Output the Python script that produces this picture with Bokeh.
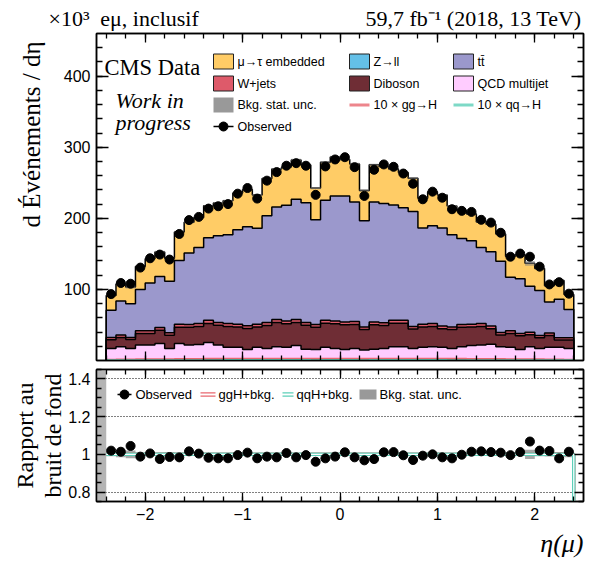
import numpy as np
from bokeh.plotting import figure
from bokeh.layouts import column
from bokeh.models import Range1d, FixedTicker, LinearAxis, Title, CustomJSTickFormatter
from bokeh.core.properties import value
from bokeh.embed import file_html
from bokeh.resources import INLINE

# ---------------- data (values in units of 10^3 events per unit eta) ----------------
bin_edges = [float(v) for v in np.round(np.arange(-2.4, 2.45, 0.1), 2)]   # 48 bins of width 0.1

zll = [0.6, 0.6, 0.7, 0.7, 0.8, 0.8, 0.8, 0.9, 0.9, 0.9, 1.0, 1.0, 1.0, 1.0, 1.0, 1.0,
       1.1, 1.1, 1.1, 1.1, 1.1, 1.0, 1.1, 1.1, 1.1, 1.1, 1.0, 1.1, 1.1, 1.1, 1.1, 1.1,
       1.0, 1.0, 1.0, 1.0, 1.0, 1.0, 0.9, 0.9, 0.9, 0.8, 0.8, 0.8, 0.7, 0.7, 0.6, 0.6]
qcd = [16.4, 18.7, 16.3, 21.0, 20.9, 23.2, 16.2, 23.1, 20.8, 21.6, 24.4, 20.7, 17.7, 17.7, 14.6, 17.7,
       15.9, 18.2, 17.6, 19.9, 14.9, 14.6, 17.6, 15.9, 14.5, 15.9, 13.7, 14.9, 15.9, 18.2, 18.2, 15.9,
       17.7, 18.3, 17.7, 16.0, 18.3, 20.0, 20.8, 22.1, 18.4, 17.9, 14.8, 18.5, 16.3, 18.0, 18.1, 16.4]
diboson = [12.2, 12.9, 12.4, 16.2, 16.4, 18.4, 18.6, 22.8, 25.1, 25.5, 26.8, 27.8, 29.2, 28.5, 29.5, 28.3,
           32.3, 34.0, 33.0, 32.4, 33.5, 31.3, 33.7, 34.6, 34.7, 33.8, 29.0, 34.2, 32.1, 33.0, 33.1, 27.2,
           28.4, 28.7, 26.0, 26.6, 27.4, 26.0, 26.2, 21.7, 16.7, 19.4, 19.1, 16.8, 15.1, 16.5, 10.3, 11.9]
wjets = [3.2, 3.5, 3.0, 3.8, 3.6, 4.0, 3.4, 4.2, 3.8, 4.0, 4.4, 3.9, 4.1, 3.8, 3.9, 4.0,
         4.1, 4.3, 4.0, 4.2, 3.9, 3.7, 4.2, 4.1, 4.0, 4.2, 3.6, 4.1, 3.9, 4.3, 4.2, 3.8,
         3.9, 4.0, 3.8, 3.7, 3.9, 4.0, 4.1, 3.8, 3.4, 3.6, 3.3, 3.5, 3.2, 3.4, 3.0, 3.1]
ttbar = [38.2, 48.0, 47.6, 58.3, 67.3, 71.6, 72.6, 89.6, 100.7, 107.0, 116.1, 122.1, 125.0, 133.0, 139.0, 135.0,
         150.1, 158.4, 162.8, 169.4, 168.6, 147.4, 168.9, 175.8, 177.2, 168.0, 149.2, 168.7, 168.0, 162.3, 158.4, 161.5,
         135.3, 137.5, 137.8, 129.7, 121.1, 117.5, 107.0, 104.6, 100.2, 75.5, 77.0, 65.0, 63.3, 43.6, 54.0, 39.6]
embedded = [21.0, 23.8, 23.4, 32.3, 34.1, 34.8, 32.4, 40.3, 43.1, 42.2, 44.9, 46.2, 47.7, 51.6, 52.4, 46.7,
            52.6, 53.3, 53.6, 55.1, 53.1, 44.5, 53.4, 54.7, 51.4, 53.4, 42.6, 52.2, 51.8, 50.4, 49.3, 46.9,
            42.1, 48.0, 46.4, 40.4, 39.2, 37.6, 35.8, 38.6, 38.5, 29.4, 33.6, 32.1, 30.8, 22.9, 26.6, 21.1]
observed = [93.4, 109.0, 108.0, 130.7, 143.8, 149.0, 142.0, 178.0, 197.5, 202.0, 213.7, 217.0, 220.0, 234.7, 242.6, 227.8,
            253.0, 265.0, 274.0, 277.6, 274.0, 233.0, 273.0, 282.8, 286.0, 272.0, 231.5, 268.3, 275.8, 272.5, 263.0, 248.7,
            226.8, 237.5, 229.0, 212.8, 210.5, 209.0, 197.9, 194.0, 179.7, 146.0, 150.4, 146.0, 132.0, 107.0, 110.2, 94.0]
bkg_rel_unc = [0.010, 0.015, 0.020, 0.008, 0.008, 0.010, 0.012, 0.008, 0.007, 0.007, 0.006, 0.006, 0.006, 0.006, 0.006, 0.007,
               0.006, 0.006, 0.006, 0.006, 0.006, 0.007, 0.006, 0.006, 0.006, 0.006, 0.007, 0.006, 0.006, 0.006, 0.006, 0.006,
               0.007, 0.006, 0.006, 0.007, 0.007, 0.007, 0.007, 0.007, 0.008, 0.009, 0.009, 0.025, 0.010, 0.012, 0.012, 0.015]
ggh_x10 = [1.2, 1.4, 1.4, 1.6, 1.7, 1.8, 1.7, 2.0, 2.1, 2.2, 2.3, 2.3, 2.4, 2.4, 2.5, 2.4,
           2.5, 2.6, 2.6, 2.6, 2.6, 2.4, 2.6, 2.6, 2.6, 2.6, 2.4, 2.6, 2.6, 2.6, 2.5, 2.5,
           2.4, 2.4, 2.4, 2.3, 2.3, 2.2, 2.1, 2.1, 2.0, 1.8, 1.7, 1.7, 1.6, 1.4, 1.4, 1.2]
qqh_x10 = [0.3, 0.3, 0.3, 0.4, 0.4, 0.4, 0.4, 0.5, 0.5, 0.5, 0.5, 0.5, 0.6, 0.6, 0.6, 0.6,
           0.6, 0.6, 0.6, 0.6, 0.6, 0.5, 0.6, 0.6, 0.6, 0.6, 0.5, 0.6, 0.6, 0.6, 0.6, 0.6,
           0.6, 0.6, 0.6, 0.5, 0.5, 0.5, 0.5, 0.5, 0.5, 0.4, 0.4, 0.4, 0.4, 0.3, 0.3, 0.3]

x_ticks = [-2, -1, 0, 1, 2]
y_ticks = [100, 200, 300, 400]
ratio_ticks = [0.8, 1, 1.2, 1.4]

# ---------------- styling ----------------
SERIF = "Liberation Serif"
SANS = "Liberation Sans"
colors = {"zll": "#64c0e8", "qcd": "#ffccff", "diboson": "#6f2d35", "wjets": "#de5a6a",
          "ttbar": "#9b98cc", "embedded": "#ffcc66"}
GGH_C = "#e8676f"
QQH_C = "#5ccfb8"

XLO, XHI = -2.5, 2.5
YLO, YHI = 0, 460
RLO, RHI = 0.75, 1.45

# image-pixel -> data helpers (for legend / header placement only)
def Xd(px):
    return XLO + (px - 96) * (XHI - XLO) / 487.0

def Yd(py):
    return YLO + (360 - py) * (YHI - YLO) / 327.0

def Yr(py):
    return RLO + (501 - py) * (RHI - RLO) / 132.0

def step_path(edges, vals):
    xs, ys = [], []
    for i, v in enumerate(vals):
        xs += [edges[i], edges[i + 1]]
        ys += [float(v), float(v)]
    return xs, ys

def style_axis(ax, major_in, minor_in, labels, size="16px", standoff=5):
    ax.major_tick_in = major_in
    ax.major_tick_out = 0
    ax.minor_tick_in = minor_in
    ax.minor_tick_out = 0
    ax.axis_line_color = "black"
    ax.axis_line_width = 1.5
    ax.major_tick_line_color = "black"
    ax.minor_tick_line_color = "black"
    ax.major_tick_line_width = 1.3
    ax.minor_tick_line_width = 1.3
    if labels:
        ax.major_label_text_font = SANS
        ax.major_label_text_font_size = size
        ax.major_label_text_color = "black"
        ax.major_label_standoff = standoff
    else:
        ax.formatter = CustomJSTickFormatter(code="return ''")
        ax.major_label_text_font_size = "1px"
        ax.major_label_standoff = 0

x_minor = [float(v) for v in np.round(np.arange(-2.4, 2.45, 0.2), 2)]
y_minor = list(range(20, 460, 20))
r_minor = [0.75, 0.85, 0.9, 0.95, 1.05, 1.1, 1.15, 1.25, 1.3, 1.35, 1.45]

def xticker():
    return FixedTicker(ticks=x_ticks, minor_ticks=x_minor)

# ---------------- main panel ----------------
p1 = figure(width=590, height=364, x_range=Range1d(XLO, XHI), y_range=Range1d(YLO, YHI),
            output_backend="svg", toolbar_location=None, title=None,
            min_border_left=96, min_border_right=7, min_border_top=33, min_border_bottom=4)
p1.outline_line_color = "black"
p1.outline_line_width = 1.5
p1.xgrid.visible = False
p1.ygrid.visible = False
p1.background_fill_color = "white"
p1.border_fill_color = "white"

p1.xaxis.ticker = xticker()
style_axis(p1.xaxis[0], 9, 5, False)
p1.yaxis.ticker = FixedTicker(ticks=y_ticks, minor_ticks=y_minor)
style_axis(p1.yaxis[0], 12, 6, True, "16px", 6)
ax_top = LinearAxis(ticker=xticker())
style_axis(ax_top, 9, 5, False)
p1.add_layout(ax_top, "above")
ax_right = LinearAxis(ticker=FixedTicker(ticks=y_ticks, minor_ticks=y_minor))
style_axis(ax_right, 12, 6, False)
p1.add_layout(ax_right, "right")

# header texts carried by an extra (tick-less) top axis
NB = "\u00a0"
head_pos = [XLO + 1e-9, Xd(149), Xd(473)]
head_txt = ["\u00d710\u00b3" + NB * 10, "e\u03bc, inclusif", "59,7 fb\u207b\u00b9 (2018, 13 TeV)"]
ax_head = LinearAxis(ticker=FixedTicker(ticks=head_pos, minor_ticks=[]),
                     formatter=CustomJSTickFormatter(args=dict(pos=head_pos, txt=head_txt),
                                                     code="""
        for (let i = 0; i < pos.length; i++) { if (Math.abs(pos[i] - tick) < 1e-6) return txt[i]; }
        return '';"""))
ax_head.major_tick_in = 0
ax_head.major_tick_out = 0
ax_head.minor_tick_in = 0
ax_head.minor_tick_out = 0
ax_head.axis_line_color = None
ax_head.major_tick_line_color = None
ax_head.minor_tick_line_color = None
ax_head.major_label_text_font = SERIF
ax_head.major_label_text_font_size = "22px"
ax_head.major_label_text_color = "black"
ax_head.major_label_standoff = 3
p1.add_layout(ax_head, "above")

p1.add_layout(Title(text="d \u00c9v\u00e9nements / d\u03b7", align="right", offset=8, standoff=28,
                    vertical_align="top",
                    text_font=SERIF, text_font_size="25px", text_font_style="normal",
                    text_color="black"), "left")

layers = [("zll", zll), ("qcd", qcd), ("diboson", diboson), ("wjets", wjets),
          ("ttbar", ttbar), ("embedded", embedded)]
cum = np.zeros(len(observed))
tops = []
for name, vals in layers:
    lo = cum.copy()
    cum = cum + np.array(vals, dtype=float)
    xs, ytop = step_path(bin_edges, cum)
    _, ybot = step_path(bin_edges, lo)
    p1.patch(xs + xs[::-1], ytop + ybot[::-1], fill_color=colors[name], line_color=None)
    tops.append(cum.copy())
total = cum
for t in tops:
    xs, ys = step_path(bin_edges, t)
    p1.line([bin_edges[0]] + xs + [bin_edges[-1]], [0.0] + ys + [0.0],
            line_color="black", line_width=1.5)

unc = total * np.array(bkg_rel_unc)
xs, yu = step_path(bin_edges, total + unc)
_, yl = step_path(bin_edges, total - unc)
p1.patch(xs + xs[::-1], yu + yl[::-1], fill_color="#808080", fill_alpha=0.55, line_color=None)

xs, ys = step_path(bin_edges, ggh_x10)
p1.line(xs, ys, line_color=GGH_C, line_width=2)
xs, ys = step_path(bin_edges, qqh_x10)
p1.line(xs, ys, line_color=QQH_C, line_width=2)

centers = [(bin_edges[i] + bin_edges[i + 1]) / 2 for i in range(len(observed))]
p1.scatter(centers, observed, marker="circle", size=9, color="black")

# legend (main)
sw_x = [223, 359, 463]
rows = [61, 83, 104.5, 126]
box_items = [(0, 0, colors["embedded"]), (0, 1, colors["zll"]), (0, 2, colors["ttbar"]),
             (1, 0, colors["wjets"]), (1, 1, colors["diboson"]), (1, 2, colors["qcd"])]
p1.rect(x=[Xd(sw_x[c]) for r, c, _ in box_items], y=[Yd(rows[r]) for r, c, _ in box_items],
        width=20, height=15, width_units="screen", height_units="screen",
        fill_color=[col for _, _, col in box_items], line_color="#222222", line_width=1)
p1.rect(x=[Xd(sw_x[0])], y=[Yd(rows[2])], width=20, height=15, width_units="screen",
        height_units="screen", fill_color="#999999", line_color=None)
p1.segment(x0=[Xd(sw_x[1] - 10)], y0=[Yd(rows[2])], x1=[Xd(sw_x[1] + 10)], y1=[Yd(rows[2])],
           line_color=GGH_C, line_width=3, line_alpha=0.8)
p1.segment(x0=[Xd(sw_x[2] - 10)], y0=[Yd(rows[2])], x1=[Xd(sw_x[2] + 10)], y1=[Yd(rows[2])],
           line_color=QQH_C, line_width=3, line_alpha=0.8)
p1.segment(x0=[Xd(sw_x[0] - 10)], y0=[Yd(rows[3])], x1=[Xd(sw_x[0] + 10)], y1=[Yd(rows[3])],
           line_color="black", line_width=1.5)
p1.scatter([Xd(sw_x[0])], [Yd(rows[3])], marker="circle", size=9, color="black")

leg_text = [(0, 0, "\u03bc\u2192\u03c4 embedded"), (0, 1, "Z\u2192ll"), (0, 2, "tt\u0304"),
            (1, 0, "W+jets"), (1, 1, "Diboson"), (1, 2, "QCD multijet"),
            (2, 0, "Bkg. stat. unc."), (2, 1, "10 \u00d7 gg\u2192H"), (2, 2, "10 \u00d7 qq\u2192H"),
            (3, 0, "Observed")]
p1.text(x=[Xd(sw_x[c] + 14) for r, c, _ in leg_text], y=[Yd(rows[r]) for r, c, _ in leg_text],
        text=[t for _, _, t in leg_text], text_font=value(SANS), text_font_size=value("12.5px"),
        text_baseline="middle", text_align="left", text_color="black")

# in-frame annotations
p1.text(x=[Xd(104)], y=[Yd(67)], text=["CMS Data"], text_font=value(SERIF),
        text_font_size=value("22.5px"), text_baseline="alphabetic", text_align="left", text_color="black")
p1.text(x=[Xd(115), Xd(115)], y=[Yd(100), Yd(122)], text=["Work in", "progress"], text_font=value(SERIF),
        text_font_size=value("22px"), text_font_style="italic", text_baseline="alphabetic",
        text_align="left", text_color="black")

# ---------------- ratio panel ----------------
p2 = figure(width=590, height=199, x_range=p1.x_range, y_range=Range1d(RLO, RHI),
            output_backend="svg", toolbar_location=None, title=None,
            min_border_left=96, min_border_right=7, min_border_top=5, min_border_bottom=62)
p2.outline_line_color = "black"
p2.outline_line_width = 1.5
p2.xgrid.visible = False
p2.ygrid.ticker = FixedTicker(ticks=ratio_ticks)
p2.ygrid.grid_line_color = "black"
p2.ygrid.grid_line_dash = "1 2"
p2.ygrid.grid_line_width = 1
p2.background_fill_color = "white"
p2.border_fill_color = "white"

p2.xaxis.ticker = xticker()
style_axis(p2.xaxis[0], 9, 5, True, "16px", 6)
p2.xaxis.major_label_overrides = {-2: "\u22122", -1: "\u22121"}
p2.yaxis.ticker = FixedTicker(ticks=ratio_ticks, minor_ticks=r_minor)
style_axis(p2.yaxis[0], 9, 5, True, "16px", 6)
p2.yaxis.major_label_overrides = {1: "1"}
ax_top2 = LinearAxis(ticker=xticker())
style_axis(ax_top2, 9, 5, False)
p2.add_layout(ax_top2, "above")
ax_right2 = LinearAxis(ticker=FixedTicker(ticks=ratio_ticks, minor_ticks=r_minor))
style_axis(ax_right2, 9, 5, False)
p2.add_layout(ax_right2, "right")

p2.add_layout(Title(text="bruit de fond", align="center", standoff=0, text_font=SERIF,
                    text_font_size="24px", text_font_style="normal", text_color="black"), "left")
p2.add_layout(Title(text="Rapport au", align="center", standoff=0, text_font=SERIF,
                    text_font_size="24px", text_font_style="normal", text_color="black"), "left")
p2.add_layout(Title(text="\u03b7(\u03bc)", align="right", standoff=8, text_font=SERIF,
                    text_font_size="26px", text_font_style="italic", text_color="black"), "below")

rel = np.array(bkg_rel_unc)
p2.quad(left=[XLO], right=[bin_edges[0]], bottom=[RLO], top=[RHI], fill_color="#b4b4b4", line_color=None)
p2.quad(left=bin_edges[:-1], right=bin_edges[1:], bottom=list(1 - rel), top=list(1 + rel),
        fill_color="#999999", fill_alpha=0.85, line_color=None)

for sig, colr in ((ggh_x10, GGH_C), (qqh_x10, QQH_C)):
    r = (total + np.array(sig) / 10.0) / total
    xs, ys = step_path(bin_edges, r)
    xs = xs + [bin_edges[-1], XHI]
    ys = ys + [0.0, 0.0]
    p2.line(xs, ys, line_color=colr, line_width=3.5)
    p2.line(xs, ys, line_color="white", line_width=1.2)

ratio_obs = list(np.array(observed) / total)
p2.scatter(centers, ratio_obs, marker="circle", size=9, color="black")

# ratio legend
ly = Yr(394)
p2.segment(x0=[Xd(117)], y0=[ly], x1=[Xd(131)], y1=[ly], line_color="black", line_width=1.5)
p2.scatter([Xd(124)], [ly], marker="circle", size=9, color="black")
for x0, x1, colr in ((200, 215, GGH_C), (282, 293, QQH_C)):
    p2.segment(x0=[Xd(x0), Xd(x0)], y0=[Yr(392.3), Yr(395.7)], x1=[Xd(x1), Xd(x1)],
               y1=[Yr(392.3), Yr(395.7)], line_color=colr, line_width=1.3)
p2.rect(x=[Xd(367.5)], y=[ly], width=17, height=10, width_units="screen", height_units="screen",
        fill_color="#999999", line_color=None)
p2.text(x=[Xd(135), Xd(218), Xd(296), Xd(379)], y=[ly] * 4,
        text=["Observed", "ggH+bkg.", "qqH+bkg.", "Bkg. stat. unc."],
        text_font=value(SANS), text_font_size=value("13px"), text_baseline="middle",
        text_align="left", text_color="black")

layout = column(p1, p2)
open("out.html", "w").write(file_html(layout, INLINE))
